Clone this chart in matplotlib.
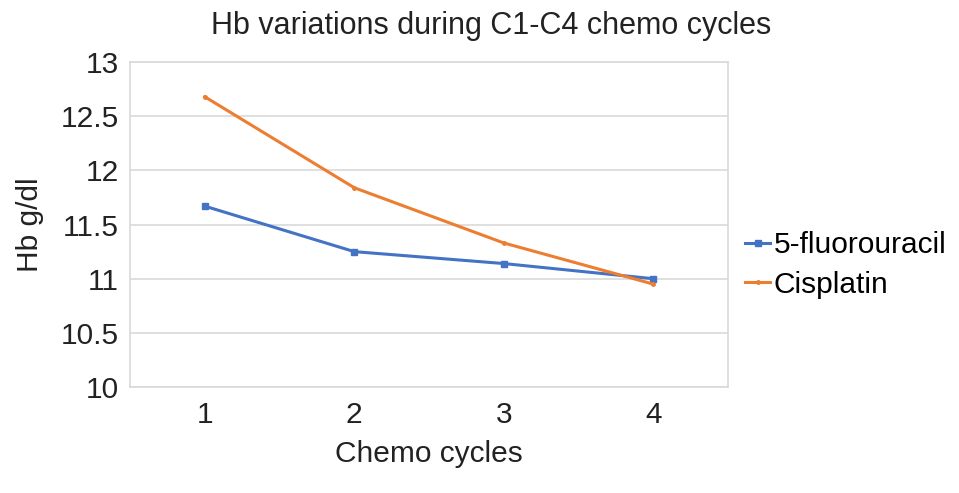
import matplotlib.pyplot as plt

plt.rcParams['font.family'] = ['Liberation Sans', 'DejaVu Sans']

cycles = [1, 2, 3, 4]
fluorouracil = [11.67, 11.25, 11.14, 11.00]
cisplatin = [12.68, 11.84, 11.33, 10.95]

fig = plt.figure(figsize=(9.59, 4.93), dpi=100)
ax = fig.add_axes([0.1356, 0.215, 0.6236, 0.659])

ax.plot(cycles, fluorouracil, color='#4472C4', lw=2.2, marker='s', ms=4.5, label='5-fluorouracil')
ax.plot(cycles, cisplatin, color='#ED7D31', lw=2.2, marker='o', ms=2.5, label='Cisplatin')

ax.set_xlim(0.5, 4.5)
ax.set_ylim(10, 13)
ax.set_xticks(cycles)
ax.set_yticks([10, 10.5, 11, 11.5, 12, 12.5, 13])
ax.set_yticklabels(['10', '10.5', '11', '11.5', '12', '12.5', '13'])
ax.grid(axis='y', color='#d9d9d9', lw=1.2)
ax.set_axisbelow(True)
for s in ax.spines.values():
    s.set_color('#d9d9d9')
    s.set_linewidth(1.2)
ax.tick_params(axis='y', labelsize=21.5, colors='#d9d9d9', labelcolor='#222222', length=0, pad=8)
ax.tick_params(axis='x', labelsize=21.5, colors='#d9d9d9', labelcolor='#222222', length=0, pad=10)

ax.set_xlabel('Chemo cycles', fontsize=21.5, color='#222222', labelpad=8)
ax.set_ylabel('Hb g/dl', fontsize=21.5, color='#222222', labelpad=12)
fig.text(0.512, 0.947, 'Hb variations during C1-C4 chemo cycles', fontsize=22, color='#222222', ha='center', va='center')

ax.legend(loc='center left', bbox_to_anchor=(1.028, 0.375), frameon=False, fontsize=21.5,
          handlelength=0.85, handletextpad=0.12, labelspacing=0.38, borderaxespad=0, borderpad=0)

fig.savefig('out.png', dpi=100)
